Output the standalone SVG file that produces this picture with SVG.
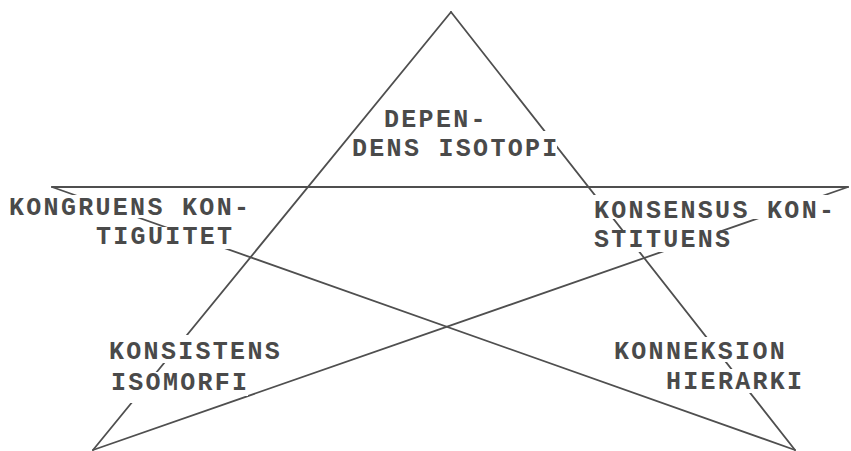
<svg xmlns="http://www.w3.org/2000/svg" width="851" height="451" viewBox="0 0 851 451">
<style>
.ln{stroke:#4f4f4f;stroke-width:1.8;fill:none;stroke-linecap:round}
.bg{fill:#ffffff;stroke:none}
.t{font-family:"Liberation Mono","Courier New",monospace;font-size:25px;font-weight:bold;letter-spacing:2.3px;fill:#4a4a4a}
</style>
<rect width="851" height="451" fill="#ffffff"/>
<g id="connectors">
<line class="ln" x1="451" y1="12" x2="93" y2="450"/>
<line class="ln" x1="451" y1="12" x2="795" y2="450"/>
<line class="ln" x1="52" y1="187" x2="848" y2="187"/>
<line class="ln" x1="52" y1="187" x2="795" y2="450"/>
<line class="ln" x1="848" y1="187" x2="93" y2="450"/>
</g>
<g id="dependens-isotopi">
<rect class="bg" x="382" y="108" width="104" height="23"/>
<rect class="bg" x="355" y="131" width="202" height="28"/>
<text class="t" x="384" y="127">DEPEN-</text>
<text class="t" x="352" y="156">DENS ISOTOPI</text>
</g>
<g id="kongruens-kontiguitet">
<rect class="bg" x="6" y="195" width="244" height="23"/>
<rect class="bg" x="93" y="227" width="140" height="22"/>
<text class="t" x="9" y="215">KONGRUENS KON-</text>
<text class="t" x="96" y="244">TIGUITET</text>
</g>
<g id="konsensus-konstituens">
<rect class="bg" x="591" y="195" width="244" height="24"/>
<rect class="bg" x="591" y="230" width="140" height="22"/>
<text class="t" x="594" y="218">KONSENSUS KON-</text>
<text class="t" x="594" y="247">STITUENS</text>
</g>
<g id="konsistens-isomorfi">
<rect class="bg" x="106" y="335" width="175" height="28"/>
<path class="bg" d="M108,372 H248 V396 H160 V403 H108 Z"/>
<text class="t" x="109" y="359">KONSISTENS</text>
<text class="t" x="111" y="390">ISOMORFI</text>
</g>
<g id="konneksion-hierarki">
<rect class="bg" x="611" y="337" width="175" height="25"/>
<rect class="bg" x="663" y="369" width="140" height="24"/>
<text class="t" x="614" y="359">KONNEKSION</text>
<text class="t" x="666" y="389">HIERARKI</text>
</g>
</svg>
